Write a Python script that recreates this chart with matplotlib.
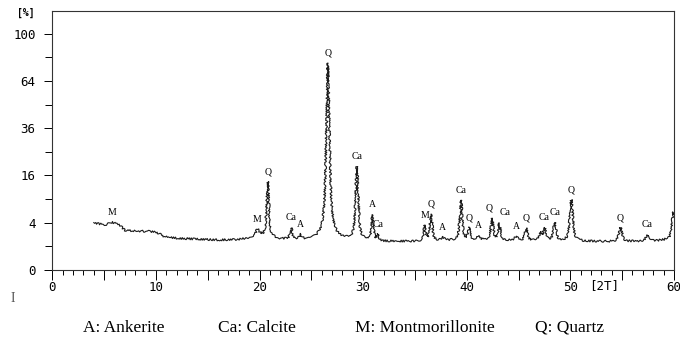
"""XRD pattern of the sample with mineral phase labels (sqrt intensity scale)."""

import numpy as np
import matplotlib

matplotlib.use("Agg")
import matplotlib.pyplot as plt

# background level (2-theta, %)
BG_2T = [4.0, 5.0, 6.5, 7.0, 8.0, 9.0, 10.0, 10.8, 12.0, 14.0, 16.0, 18.0, 19.0, 20.0,
         22.0, 25.0, 28.0, 32.0, 35.0, 38.0, 42.0, 46.0, 50.0, 54.0, 58.0, 60.0]
BG_I = [4.0, 3.6, 3.5, 2.8, 2.7, 2.7, 2.6, 2.0, 1.8, 1.7, 1.6, 1.65, 1.8, 2.1,
        1.7, 1.6, 1.6, 1.45, 1.45, 1.55, 1.6, 1.55, 1.5, 1.45, 1.5, 1.7]

# reflections: position, peak height above background, width, phase label
PEAK_2T = [5.8, 19.8, 20.8, 23.05, 23.95, 26.6, 29.4, 30.9, 31.4, 35.95, 36.55, 37.7,
           39.45, 40.25, 41.1, 42.45, 43.15, 44.8, 45.75, 47.1, 47.5, 48.5, 50.1,
           54.85, 57.45, 59.95]
PEAK_H = [0.5, 0.8, 12.0, 1.4, 0.5, 75.0, 17.5, 3.8, 0.6, 2.0, 4.0, 0.3,
          7.0, 1.5, 0.4, 3.1, 2.3, 0.4, 1.5, 0.9, 1.6, 2.4, 7.2,
          1.7, 0.7, 4.2]
PEAK_W = [0.8, 0.4, 0.22, 0.25, 0.25, 0.28, 0.25, 0.22, 0.2, 0.2, 0.25, 0.4,
          0.25, 0.25, 0.4, 0.25, 0.25, 0.4, 0.28, 0.25, 0.3, 0.3, 0.3,
          0.35, 0.35, 0.3]
PEAK_LABEL = ["M", "M", "Q", "Ca", "A", "Q", "Ca", "A", "Ca", "M", "Q", "A",
              "Ca", "Q", "A", "Q", "Ca", "A", "Q", "", "Ca", "Ca", "Q",
              "Q", "Ca", ""]

Y_TICKS = [0, 4, 16, 36, 64, 100]
Y_MINOR = [1, 9, 25, 49, 81]
X_TICKS = [0, 10, 20, 30, 40, 50, 60]

LEGEND = ["A: Ankerite", "Ca: Calcite", "M: Montmorillonite", "Q: Quartz"]


def profile(x, x0, h, w, eta=0.6):
    lor = 1.0 / (1.0 + ((x - x0) / (w / 2)) ** 2)
    gau = np.exp(-4 * np.log(2) * ((x - x0) / w) ** 2)
    return h * (eta * lor + (1 - eta) * gau)


two_theta = np.arange(4.0, 60.0, 0.01)
intensity = np.interp(two_theta, BG_2T, BG_I)
for x0, h, w in zip(PEAK_2T, PEAK_H, PEAK_W):
    intensity = intensity + profile(two_theta, x0, h, w)

fig = plt.figure(figsize=(6.8, 3.44), dpi=100)
ax = fig.add_axes([0.077, 0.215, 0.914, 0.753])

line, = ax.plot(two_theta, intensity, color="#1a1a1a", lw=0.8)
line.set_sketch_params(scale=1.0, length=1.2, randomness=2)

ax.set_yscale("function", functions=(lambda v: np.sqrt(np.clip(v, 0, None)),
                                     lambda v: np.square(v)))
ax.set_ylim(0, 120)
ax.set_xlim(0, 60)

mono = {"family": "DejaVu Sans Mono", "size": 9}
ax.set_yticks(Y_TICKS)
ax.set_yticks(Y_MINOR, minor=True)
ax.set_yticklabels([str(v) for v in Y_TICKS], fontdict=mono)
ax.set_xticks(np.arange(0, 61, 5))
ax.set_xticklabels(["0", "", "10", "", "20", "", "30", "", "40", "", "50", "", "60"],
                   fontdict=mono)
ax.set_xticks(np.arange(0, 61, 1), minor=True)
ax.tick_params(axis="y", which="major", length=6, width=0.7, direction="out", pad=6)
ax.tick_params(axis="y", which="minor", length=5, width=0.7, direction="out")
ax.tick_params(axis="x", which="major", length=7, width=0.7, direction="out", pad=1)
ax.tick_params(axis="x", which="minor", length=3.5, width=0.7, direction="out")
for s in ax.spines.values():
    s.set_linewidth(0.8)
    s.set_color("#333333")

# small sideways nudges (points) where two labels sit close together
nudge = {16: 4, 15: -2}
for i, (x0, lab) in enumerate(zip(PEAK_2T, PEAK_LABEL)):
    if not lab:
        continue
    top = np.interp(x0, two_theta, intensity)
    ax.annotate(lab, (x0, top), xytext=(nudge.get(i, 0), 4), textcoords="offset points",
                ha="center", va="bottom", family="Liberation Serif", fontsize=7)

fig.text(0.038, 0.955, "[%]", family="DejaVu Sans Mono", fontsize=7, ha="center",
         fontweight="bold")
ax.text(53.3, -0.035, "[2T]", transform=ax.get_xaxis_transform(), family="DejaVu Sans Mono",
        fontsize=9, ha="center", va="top")
fig.text(0.019, 0.133, "I", family="Liberation Serif", fontsize=10, color="#555555",
         ha="center", va="center")

for xf, txt in zip([0.122, 0.32, 0.522, 0.787], LEGEND):
    fig.text(xf, 0.047, txt, family="Liberation Serif", fontsize=12.5, ha="left", va="center")

fig.savefig("out.png", dpi=100)
